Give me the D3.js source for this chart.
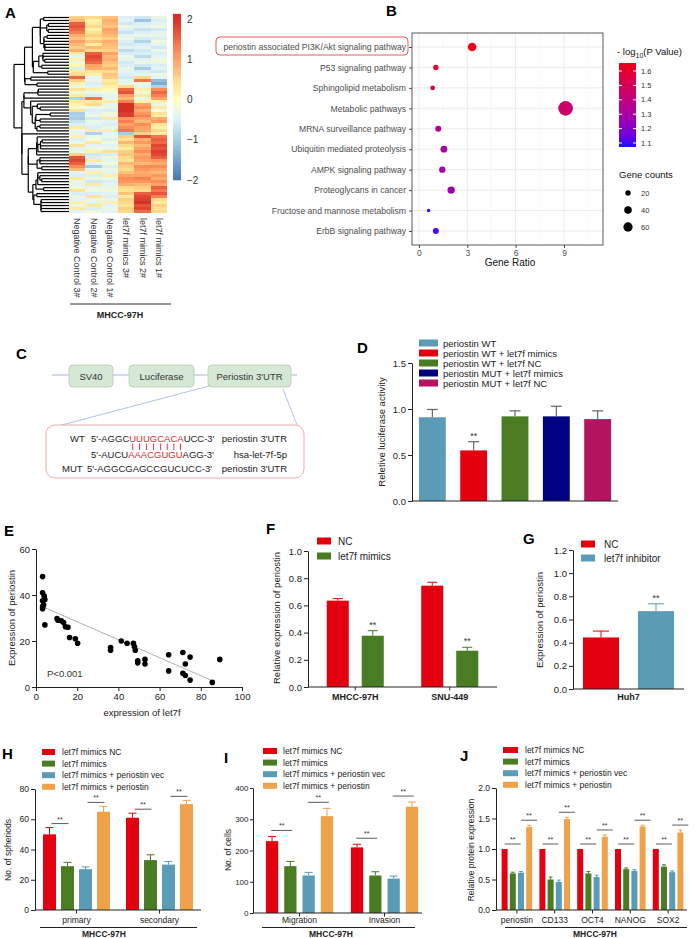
<!DOCTYPE html>
<html><head><meta charset="utf-8">
<script src="https://cdn.jsdelivr.net/npm/d3@7"></script>
<style>body{margin:0;background:#fff}svg{display:block}</style>
</head><body><svg id="c" width="696" height="938"></svg>
<script>
// ---------------- DATA ----------------
// Panel A heatmap (z-scores), rows top->bottom
const heatSamples = ["Negative Control 3#","Negative Control 2#","Negative Control 1#","let7f mimics 3#","let7f mimics 2#","let7f mimics 1#"];
const heatNC3 = [0.6,0.8,1.6,1.7,1.5,1.3,0.9,0.7,1.0,0.8,0.6,0.9,0.3,-0.4,0.2,-0.3,0.1,-0.5,0.3,0.5,1.5,0.6,0.2,-0.3,0.4,-0.2,0.3,-0.9,0.3,0.2,-0.2,0.4,-1.0,-0.9,-1.0,-0.7,-0.5,0.3,-0.3,-0.4,0.2,-0.5,-0.3,0.4,-0.4,-0.3,0.6,1.7,1.8,1.6,1.2,0.8,-0.4,-0.5,0.3,-0.3,-0.4,-0.2,0.4,-0.5,-0.3,-0.4,0.2,-0.3,0.3,-0.4];
const heatNC2 = [0.5,0.2,0.3,0.5,0.2,0.4,0.6,0.4,0.7,0.3,0.8,0.5,1.6,1.8,1.7,1.5,1.0,0.9,0.4,0.2,-0.4,-0.3,-0.5,-0.4,0.2,-0.3,-0.5,1.4,0.3,0.5,-0.3,-0.5,-0.4,-0.2,-0.6,-0.3,-0.4,-0.5,0.2,-0.9,-0.3,-0.2,0.3,-0.4,-0.3,0.2,-0.6,-0.5,0.3,-0.4,-1.0,-0.4,0.2,-0.5,-0.3,-0.6,0.3,-0.4,-0.2,-0.5,0.4,-0.3,-0.4,0.3,-0.5,-0.2];
const heatNC1 = [0.7,0.9,0.8,0.7,1.0,0.9,0.8,0.6,0.9,0.8,0.7,0.6,1.0,0.8,0.9,0.7,0.6,0.8,0.5,0.7,0.6,0.3,0.4,0.2,0.1,-0.2,-0.4,-0.3,0.2,-0.4,-0.3,-0.5,-0.2,-0.3,0.3,-0.4,-0.5,-0.3,0.2,-0.4,-0.3,-0.5,-0.2,-0.4,-0.3,0.4,-0.5,-0.3,-0.4,-0.2,-0.5,-0.3,-0.4,0.2,-0.3,-0.5,-0.4,-0.3,-0.2,-0.4,-0.5,-0.3,0.2,-0.4,-0.3,-0.4];
const heatMim3 = [-0.5,-0.4,-0.6,-0.3,-0.5,-0.7,-0.4,-0.3,-0.5,-0.6,-0.4,-0.8,-0.5,-0.3,-0.4,-0.6,-0.5,-0.3,-0.4,-0.5,-0.6,-0.4,-0.3,0.5,1.5,1.7,1.0,0.8,1.3,2.0,2.0,2.0,1.9,1.9,1.1,1.3,1.0,1.2,1.4,-1.0,0.6,0.4,0.8,0.5,0.3,0.6,0.7,0.5,0.4,0.8,0.6,0.5,0.7,1.0,1.2,1.1,0.9,0.5,0.4,0.7,0.3,0.6,0.5,0.4,0.6,0.5];
const heatMim2 = [-0.6,-1.1,-0.5,-0.4,-0.7,-0.5,-0.3,-0.6,-0.9,-0.5,-0.4,-0.6,-0.5,-0.8,-0.4,-0.3,-0.6,-1.0,-0.5,-0.4,0.5,1.4,-0.3,-0.4,0.2,-0.2,0.3,-0.3,0.2,1.0,1.2,0.9,1.1,1.3,1.0,0.8,1.2,1.0,0.9,0.6,1.7,0.9,1.1,0.8,1.0,1.2,0.9,1.1,1.0,0.8,1.2,1.1,0.9,1.0,1.3,1.1,0.8,0.6,0.5,1.6,1.8,1.9,2.0,1.7,1.8,1.5];
const heatMim1 = [-0.3,-0.5,-0.4,-0.2,-0.6,-0.4,-0.3,-0.5,-0.2,-0.4,-0.6,-0.3,-0.5,-0.4,-0.2,-0.3,-0.5,-0.4,-0.6,-0.3,-0.4,-1.2,-1.4,-0.9,1.2,1.5,1.3,1.0,0.2,-0.3,0.3,-0.2,0.4,0.2,0.9,1.1,0.4,0.2,0.5,0.3,1.4,1.6,1.5,1.8,1.7,1.9,1.8,1.6,1.1,0.9,1.2,1.0,0.8,1.1,0.9,1.2,1.0,1.6,1.4,1.7,1.3,0.5,0.3,0.6,0.4,0.5];
const heatLegendTicks = [2,1,0,-1,-2];

// Panel B
const pathways = ["periostin associated PI3K/Akt signaling pathway","P53 signaling pathway","Sphingolipid metabolism","Metabolic pathways","MRNA surveillance pathway","Ubiquitin mediated proteolysis","AMPK signaling pathway","Proteoglycans in cancer","Fructose and mannose metabolism","ErbB signaling pathway"];
const geneRatio = [3.3,1.05,0.85,9.1,1.2,1.55,1.45,2.0,0.6,1.05];
const geneCounts = [51,20,15,148,25,32,28,38,8,25];
const negLogP = [1.65,1.6,1.5,1.45,1.35,1.3,1.3,1.27,1.08,1.1];
const ratioTicks = [0,3,6,9];
const pLegendTicks = [1.1,1.2,1.3,1.4,1.5,1.6];
const countLegend = [20,40,60];

// Panel D
const dSeries = ["periostin WT","periostin WT + let7f mimics","periostin WT + let7f NC","periostin MUT + let7f mimics","periostin MUT + let7f NC"];
const dValues = [0.91,0.55,0.92,0.92,0.89];
const dErrors = [0.085,0.095,0.06,0.11,0.09];
const dSig = ["","**","","",""];
const dColors = ["#5a9bb6","#e3000f","#4a7d23","#000080","#b3135f"];

// Panel E
const let7fExpr = [3.2,3.2,4.0,3.2,4.3,3.2,3.2,3.7,4.3,10.2,10.7,12.3,13.4,14.3,15.5,16.3,19.1,20.2,36.2,36.2,41.4,44.2,47.3,47.8,48.2,49.4,49.4,52.9,52.9,64.4,64.4,71.3,71.3,72.5,72.5,74.8,74.8,85.6,89.2];
const periostinExpr = [48,41,39.5,37.5,38,35,34,35.7,27,29.8,29,28.8,28,26.2,26,21.5,21,19,17.2,16,20,19,19,17.5,16,11.4,10.5,12,10,14,7,15,6,10,5,13,3,2,12];
const fitX = [3,86];
const fitY = [35,2.6];

// Panel F
const fGroups = ["MHCC-97H","SNU-449"];
const fSeries = ["NC","let7f mimics"];
const fNC = [0.635,0.745];
const fMimics = [0.377,0.267];
const fNCErr = [0.015,0.025];
const fMimicsErr = [0.037,0.025];

// Panel G
const gGroups = ["Huh7"];
const gSeries = ["NC","let7f inhibitor"];
const gNC = [0.445];
const gInhibitor = [0.672];
const gNCErr = [0.055];
const gInhibitorErr = [0.063];

// Panels H, I, J
const rescueSeries = ["let7f mimics NC","let7f mimics","let7f mimics + periostin vec","let7f mimics + periostin"];
const rescueColors = ["#e3000f","#4a7d23","#5a9bb6","#efa24a"];
const hGroups = ["primary","secondary"];
const hNC = [50,61], hMim = [29,33], hVec = [27,30], hPeri = [65,70];
const hNCErr = [4.5,3], hMimErr = [2.5,3.5], hVecErr = [1.5,2], hPeriErr = [3.5,2.5];
const iGroups = ["Migration","Invasion"];
const iNC = [230,210], iMim = [150,120], iVec = [120,110], iPeri = [310,340];
const iNCErr = [15,10], iMimErr = [15,12], iVecErr = [10,8], iPeriErr = [25,15];
const jGroups = ["periostin","CD133","OCT4","NANOG","SOX2"];
const jNC = [1,1,1,1,1], jMim = [0.6,0.5,0.6,0.67,0.71], jVec = [0.61,0.46,0.54,0.64,0.62], jPeri = [1.36,1.49,1.2,1.37,1.27];
const jNCErr = [0,0,0,0,0], jMimErr = [0.02,0.04,0.03,0.02,0.03], jVecErr = [0.02,0.03,0.03,0.02,0.02], jPeriErr = [0.03,0.03,0.03,0.02,0.04];
const sigPairs = [[0,1],[2,3]];

// ---------------- DRAWING ----------------
const FONT = 'Arial, "Liberation Sans", Helvetica, sans-serif';
const svg = d3.select("#c").attr("font-family", FONT);
const TXT = "#222";

function txt(t, x, y, o = {}) {
  const e = svg.append("text").attr("x", x).attr("y", y).attr("font-size", o.fs || 9)
    .attr("fill", o.fill || TXT).attr("text-anchor", o.anchor || "start").text(t);
  if (o.bold) e.attr("font-weight", "bold");
  if (o.dom) e.attr("dominant-baseline", o.dom);
  return e;
}
function vtxt(t, x, y, fs) {
  svg.append("text").attr("transform", `translate(${x},${y}) rotate(-90)`).attr("text-anchor", "middle")
    .attr("dominant-baseline", "middle").attr("font-size", fs).attr("fill", TXT).text(t);
}
function styleAxis(sel, fs, col) {
  sel.attr("font-family", FONT);
  sel.select(".domain").attr("stroke", col || TXT);
  sel.selectAll(".tick line").attr("stroke", col || TXT);
  sel.selectAll(".tick text").attr("font-size", fs).attr("fill", col || TXT);
}
function letter(t, x, y) { txt(t, x, y, {fs: 15, bold: true, fill: "#000"}); }
function legend(items, colors, x, y0, dy, sw, sh, fs, tx) {
  items.forEach((it, i) => {
    svg.append("rect").attr("x", x).attr("y", y0 + i * dy - sh / 2).attr("width", sw).attr("height", sh).attr("fill", colors[i]);
    txt(it, tx, y0 + i * dy, {fs: fs, dom: "central"});
  });
}

// ===== Panel A =====
letter("A", 5, 18);
const heatCols = [heatNC3, heatNC2, heatNC1, heatMim3, heatMim2, heatMim1];
const nRows = heatNC3.length;
const hx = d3.scaleBand().domain(d3.range(6)).range([69, 167]);
const hy = d3.scaleBand().domain(d3.range(nRows)).range([16, 213]);
const heatColor = d3.scaleLinear().domain([-2, -1.2, -0.45, 0, 0.45, 1.2, 2])
  .range(["#4575B4", "#91BFDB", "#E0F3F8", "#FFFFBF", "#FEE090", "#FC8D59", "#D73027"]).clamp(true);
const gA = svg.append("g").attr("shape-rendering", "crispEdges");
heatCols.forEach((col, ci) => col.forEach((v, ri) => {
  gA.append("rect").attr("x", hx(ci)).attr("y", hy(ri)).attr("width", hx.bandwidth() + 0.4)
    .attr("height", hy.bandwidth() + 0.4).attr("fill", heatColor(v));
}));
// dendrogram by adjacent average-linkage clustering of the displayed rows
const rowsM = d3.range(nRows).map(i => heatCols.map(c => c[i]));
const dist = (a, b) => Math.sqrt(d3.sum(a, (v, k) => (v - b[k]) ** 2));
let cl = rowsM.map((v, i) => ({members: [i], height: 0}));
while (cl.length > 1) {
  let bi = 0, bd = Infinity;
  for (let i = 0; i < cl.length - 1; i++) {
    const A = cl[i].members, B = cl[i + 1].members; let s = 0;
    A.forEach(a => B.forEach(b => s += dist(rowsM[a], rowsM[b])));
    s /= A.length * B.length;
    if (s < bd) { bd = s; bi = i; }
  }
  const n = {children: [cl[bi], cl[bi + 1]], members: cl[bi].members.concat(cl[bi + 1].members),
    height: Math.max(bd, cl[bi].height, cl[bi + 1].height)};
  cl.splice(bi, 2, n);
}
const root = d3.hierarchy(cl[0]);
const dxs = d3.scalePow().exponent(0.5).domain([0, root.data.height]).range([69, 14]);
root.eachAfter(nd => {
  nd.yy = nd.children ? (nd.children[0].yy + nd.children[1].yy) / 2 : hy(nd.data.members[0]) + hy.bandwidth() / 2;
  nd.xx = dxs(nd.data.height);
});
const gD = svg.append("g").attr("stroke", "#000").attr("stroke-width", 1.2).attr("fill", "none");
root.each(nd => {
  if (!nd.children) return;
  gD.append("line").attr("x1", nd.xx).attr("x2", nd.xx).attr("y1", nd.children[0].yy).attr("y2", nd.children[1].yy);
  nd.children.forEach(c => gD.append("line").attr("x1", nd.xx).attr("x2", c.xx).attr("y1", c.yy).attr("y2", c.yy));
});
heatSamples.forEach((s, i) => {
  svg.append("text").attr("transform", `translate(${hx(i) + hx.bandwidth() / 2},218) rotate(90)`)
    .attr("dominant-baseline", "central").attr("font-size", 9).attr("fill", "#333").text(s);
});
svg.append("line").attr("x1", 70).attr("x2", 171).attr("y1", 304).attr("y2", 304).attr("stroke", "#333");
txt("MHCC-97H", 120, 318, {fs: 9, bold: true, anchor: "middle"});
// colour key
const cbY = d3.scaleLinear().domain([2, -2]).range([19, 180]);
const cbSteps = d3.range(-2, 2.1, 0.04);
cbSteps.forEach(v => svg.append("rect").attr("x", 173).attr("width", 8).attr("y", cbY(v + 0.04) - 0.3)
  .attr("height", cbY(v) - cbY(v + 0.04) + 0.6).attr("fill", heatColor(v + 0.02)));
svg.append("rect").attr("x", 173).attr("width", 8).attr("y", 16).attr("height", 3).attr("fill", heatColor(2));
heatLegendTicks.forEach(t => txt(t < 0 ? "\u2212" + Math.abs(t) : String(t), 187, cbY(t), {fs: 10, dom: "central", fill: "#333"}));

// ===== Panel B =====
letter("B", 386, 16);
const bx = d3.scaleLinear().domain([-0.43, 11.42]).range([412, 603]);
const by = d3.scalePoint().domain(pathways).range([47, 231]);
const bCol = d3.scaleLinear().domain([1.07, 1.66]).range(["#1010ff", "#f00010"]).interpolate(d3.interpolateLab);
const bR = d3.scaleSqrt().domain([0, 100]).range([0, 6]);
const gB = svg.append("g");
gB.append("rect").attr("x", 412).attr("y", 33).attr("width", 191).attr("height", 212).attr("fill", "#fff");
[1.5, 4.5, 7.5, 10.5].forEach(v => gB.append("line").attr("x1", bx(v)).attr("x2", bx(v)).attr("y1", 33).attr("y2", 245).attr("stroke", "#f2f2f2").attr("stroke-width", 0.6));
ratioTicks.forEach(v => gB.append("line").attr("x1", bx(v)).attr("x2", bx(v)).attr("y1", 33).attr("y2", 245).attr("stroke", "#ebebeb").attr("stroke-width", 1));
pathways.forEach(p => gB.append("line").attr("x1", 412).attr("x2", 603).attr("y1", by(p)).attr("y2", by(p)).attr("stroke", "#ebebeb").attr("stroke-width", 1));
pathways.forEach((p, i) => gB.append("circle").attr("cx", bx(geneRatio[i])).attr("cy", by(p)).attr("r", bR(geneCounts[i])).attr("fill", bCol(negLogP[i])));
gB.append("rect").attr("x", 412).attr("y", 33).attr("width", 191).attr("height", 212).attr("fill", "none").attr("stroke", "#333").attr("stroke-width", 0.8);
const bxa = svg.append("g").attr("transform", "translate(0,245)").call(d3.axisBottom(bx).tickValues(ratioTicks).tickSize(3).tickSizeOuter(0).tickPadding(2));
bxa.select(".domain").remove(); styleAxis(bxa, 8.5, "#4d4d4d");
const bya = svg.append("g").attr("transform", "translate(412,0)").call(d3.axisLeft(by).tickSize(3).tickPadding(3));
bya.select(".domain").remove(); styleAxis(bya, 8.6, "#4d4d4d");
svg.append("rect").attr("x", 216).attr("y", 37).attr("width", 192).attr("height", 18).attr("rx", 4).attr("fill", "none").attr("stroke", "#e24a4a").attr("stroke-width", 0.9);
txt("Gene Ratio", 510, 266, {fs: 10, anchor: "middle", fill: "#111"});
// colour legend
const lt = svg.append("text").attr("x", 617).attr("y", 55).attr("font-size", 9.5).attr("fill", "#111");
lt.append("tspan").text("- log");
lt.append("tspan").attr("dy", 2.5).attr("font-size", 7).text("10");
lt.append("tspan").attr("dy", -2.5).text("(P Value)");
const pY = d3.scaleLinear().domain([1.1, 1.6]).range([143, 71]);
const defs = svg.append("defs");
const grad = defs.append("linearGradient").attr("id", "pg").attr("x1", 0).attr("y1", 1).attr("x2", 0).attr("y2", 0);
d3.range(0, 1.001, 0.1).forEach(t => grad.append("stop").attr("offset", t).attr("stop-color", bCol(1.072 + t * (1.655 - 1.072))));
svg.append("rect").attr("x", 619).attr("y", 63).attr("width", 17).attr("height", 84).attr("fill", "url(#pg)");
pLegendTicks.forEach(v => {
  svg.append("line").attr("x1", 619).attr("x2", 622).attr("y1", pY(v)).attr("y2", pY(v)).attr("stroke", "#fff");
  svg.append("line").attr("x1", 633).attr("x2", 636).attr("y1", pY(v)).attr("y2", pY(v)).attr("stroke", "#fff");
  txt(d3.format(".1f")(v), 641, pY(v), {fs: 7.5, dom: "central", fill: "#333"});
});
txt("Gene counts", 619, 178, {fs: 9.5, fill: "#111"});
countLegend.forEach((c, i) => {
  svg.append("circle").attr("cx", 628).attr("cy", 193 + i * 17).attr("r", bR(c)).attr("fill", "#000");
  txt(String(c), 641, 193 + i * 17, {fs: 7.5, dom: "central", fill: "#333"});
});

// ===== Panel C =====
letter("C", 16, 359);
const lineC = "#9fb3e6";
svg.append("line").attr("x1", 52).attr("x2", 297).attr("y1", 375).attr("y2", 375).attr("stroke", lineC);
[["SV40", 69, 113], ["Luciferase", 129, 194], ["Periostin 3'UTR", 208, 291]].forEach(b => {
  svg.append("rect").attr("x", b[1]).attr("y", 365).attr("width", b[2] - b[1]).attr("height", 22).attr("rx", 4)
    .attr("fill", "#d5e8d4").attr("stroke", "#b6cbb3").attr("stroke-width", 0.8);
  txt(b[0], (b[1] + b[2]) / 2, 376, {fs: 9.5, anchor: "middle", dom: "central", fill: "#333"});
});
svg.append("line").attr("x1", 209).attr("y1", 386).attr("x2", 58).attr("y2", 426).attr("stroke", lineC).attr("stroke-width", 0.8);
svg.append("line").attr("x1", 283).attr("y1", 389).attr("x2", 297).attr("y2", 425).attr("stroke", lineC).attr("stroke-width", 0.8);
svg.append("rect").attr("x", 46).attr("y", 425).attr("width", 258).attr("height", 53).attr("rx", 9).attr("fill", "#fff").attr("stroke", "#f2a3a3").attr("stroke-width", 0.9);
const RED = "#e8262b";
function seqLine(y, parts) {
  const t = svg.append("text").attr("x", 91).attr("y", y).attr("font-size", 9.5).attr("fill", TXT);
  parts.forEach(p => t.append("tspan").attr("fill", p[1] ? RED : TXT).text(p[0]));
  return t;
}
txt("WT", 70, 441.5, {fs: 9.5});
const s1 = seqLine(441.5, [["5'-AGGC", 0], ["UUUGCACA", 1], ["UCC-3'", 0]]);
seqLine(457.5, [["5'-AUCU", 0], ["AAACGUGU", 1], ["AGG-3'", 0]]);
txt("periostin 3'UTR", 287, 441.5, {fs: 9.5, anchor: "end"});
txt("hsa-let-7f-5p", 287, 457.5, {fs: 9.5, anchor: "end"});
txt("MUT", 62, 471.5, {fs: 9.5});
txt("5'-AGGCGAGCCGUCUCC-3'", 87, 471.5, {fs: 9.5});
txt("periostin 3'UTR", 287, 471.5, {fs: 9.5, anchor: "end"});
const s1n = s1.node();
for (let k = 7; k < 15; k++) {
  let cx;
  try { const e = s1n.getExtentOfChar(k); cx = e.x + e.width / 2; } catch (err) { cx = 128 + (k - 7) * 6.8 + 3; }
  svg.append("line").attr("x1", cx).attr("x2", cx).attr("y1", 443.5).attr("y2", 450).attr("stroke", RED).attr("stroke-width", 0.9);
}

// ===== Bar panel helper =====
function barPanel(p) {
  const y = d3.scaleLinear().domain(p.yDomain).range([p.yBottom, p.yTop]);
  const gx = d3.scaleBand().domain(p.groups).range(p.groupRange);
  const sx = d3.scaleBand().domain(p.series).range([-p.half, p.half]).paddingInner(p.pad).paddingOuter(p.pad / 2);
  const cx = (gi, si) => gx(p.groups[gi]) + gx.bandwidth() / 2 + sx(p.series[si]) + sx.bandwidth() / 2;
  const g = svg.append("g");
  const w = sx.bandwidth();
  p.series.forEach((s, si) => p.groups.forEach((gr, gi) => {
    const v = p.values[si][gi], e = p.errors[si][gi], c = p.colors[si], x = cx(gi, si);
    g.append("rect").attr("x", x - w / 2).attr("y", y(v)).attr("width", w).attr("height", y(0) - y(v)).attr("fill", c);
    if (e > 0) {
      const ec = p.errColor || c;
      g.append("line").attr("x1", x).attr("x2", x).attr("y1", y(v)).attr("y2", y(v + e)).attr("stroke", ec).attr("stroke-width", p.ew || 1);
      g.append("line").attr("x1", x - p.cap).attr("x2", x + p.cap).attr("y1", y(v + e)).attr("y2", y(v + e)).attr("stroke", ec).attr("stroke-width", p.ew || 1);
    }
    if (p.sig && p.sig[si]) txt(p.sig[si], x, y(v + e) - 3, {fs: p.sigFs || 9, anchor: "middle", fill: "#333"});
  }));
  if (p.pairs) {
    p.groups.forEach((gr, gi) => p.pairs.forEach(pr => {
      const top = d3.max(pr, si => p.values[si][gi] + p.errors[si][gi]);
      const ly = y(top) - p.bOff;
      const mid = (cx(gi, pr[0]) + cx(gi, pr[1])) / 2 + p.bShift;
      g.append("line").attr("x1", mid - p.bw / 2).attr("x2", mid + p.bw / 2).attr("y1", ly).attr("y2", ly).attr("stroke", "#333").attr("stroke-width", 0.8);
      txt("**", mid, ly - 2, {fs: 7, anchor: "middle", fill: "#333"});
    }));
  }
  const ya = svg.append("g").attr("transform", `translate(${p.x0},0)`)
    .call(d3.axisLeft(y).tickValues(p.ticks).tickFormat(d3.format(p.fmt)).tickSize(p.tick || 4).tickSizeOuter(0).tickPadding(p.tpad || 2));
  styleAxis(ya, p.fs);
  svg.append("line").attr("x1", p.x0).attr("x2", p.x1).attr("y1", y(0)).attr("y2", y(0)).attr("stroke", TXT);
  if (p.xTicks) p.groups.forEach(gr => {
    const gcx = gx(gr) + gx.bandwidth() / 2;
    svg.append("line").attr("x1", gcx).attr("x2", gcx).attr("y1", y(0)).attr("y2", y(0) + 3.5).attr("stroke", TXT);
  });
  return {y, gx};
}

// ===== Panel D =====
letter("D", 357, 353);
barPanel({yDomain: [0, 1.5], yTop: 363, yBottom: 501, x0: 412, x1: 618, groups: [""], series: dSeries,
  values: dValues.map(v => [v]), errors: dErrors.map(v => [v]), colors: dColors, groupRange: [412, 618],
  half: 103.3, pad: 0.35, cap: 5.5, errColor: "#666", ew: 1.2, ticks: [0, 0.5, 1, 1.5], fmt: ".1f", fs: 9.5, sig: dSig, sigFs: 9});
legend(dSeries, dColors, 419, 343, 10, 19, 7, 9.5, 443);
vtxt("Reletive luciferase activity", 382, 432, 9.5);

// ===== Panel E =====
letter("E", 4, 536);
const ex = d3.scaleLinear().domain([0, 100]).range([36, 242]);
const ey = d3.scaleLinear().domain([0, 60]).range([687, 549]);
const exa = svg.append("g").attr("transform", "translate(0,687)").call(d3.axisBottom(ex).tickValues([0, 20, 40, 60, 80, 100]).tickSize(4).tickSizeOuter(0).tickPadding(2));
styleAxis(exa, 9.5);
const eya = svg.append("g").attr("transform", "translate(36,0)").call(d3.axisLeft(ey).tickValues([0, 20, 40, 60]).tickSize(4).tickSizeOuter(0).tickPadding(2));
styleAxis(eya, 9.5);
svg.append("line").attr("x1", ex(fitX[0])).attr("y1", ey(fitY[0])).attr("x2", ex(fitX[1])).attr("y2", ey(fitY[1])).attr("stroke", "#9a9a9a").attr("stroke-width", 0.8);
let7fExpr.forEach((v, i) => svg.append("circle").attr("cx", ex(v)).attr("cy", ey(periostinExpr[i])).attr("r", 2.8).attr("fill", "#000"));
txt("P<0.001", 47, 677, {fs: 9.5, fill: "#333"});
txt("expression of let7f", 142, 716, {fs: 9.5, anchor: "middle"});
vtxt("Expression of periostin", 12, 618, 9.5);

// ===== Panel F =====
letter("F", 266, 534);
const fRes = barPanel({yDomain: [0, 1], yTop: 551, yBottom: 687, x0: 308, x1: 497, groups: fGroups, series: fSeries,
  values: [fNC, fMimics], errors: [fNCErr, fMimicsErr], colors: ["#e3000f", "#4a7d23"], groupRange: [308, 497],
  half: 35, pad: 0.37, cap: 5, ticks: [0, 0.2, 0.4, 0.6, 0.8, 1.0], fmt: ".1f", fs: 9.5, xTicks: true,
  sig: ["", "**"], sigFs: 9});
legend(fSeries, ["#e3000f", "#4a7d23"], 317, 541, 15, 14, 7, 10, 338);
fGroups.forEach(gr => txt(gr, fRes.gx(gr) + fRes.gx.bandwidth() / 2, 700, {fs: 9, bold: true, anchor: "middle"}));
vtxt("Relative expression of periostin", 277, 618, 9.5);

// ===== Panel G =====
letter("G", 523, 544);
barPanel({yDomain: [0, 1.2], yTop: 550, yBottom: 689, x0: 573, x1: 684, groups: gGroups, series: gSeries,
  values: [gNC, gInhibitor], errors: [gNCErr, gInhibitorErr], colors: ["#e3000f", "#5a9bb6"], groupRange: [573, 684],
  half: 55, pad: 0.345, cap: 8, ticks: [0, 0.2, 0.4, 0.6, 0.8, 1.0, 1.2], fmt: ".1f", fs: 9.5, xTicks: false,
  sig: ["", "**"], sigFs: 9});
legend(gSeries, ["#e3000f", "#5a9bb6"], 581, 544, 14, 14, 7, 10, 604);
txt("Huh7", 628.5, 700, {fs: 9, bold: true, anchor: "middle"});
vtxt("Expression of periostin", 540, 620, 9.5);

// ===== Panel H =====
letter("H", 2, 759);
const hRes = barPanel({yDomain: [0, 80], yTop: 789, yBottom: 910, x0: 35, x1: 201, groups: hGroups, series: rescueSeries,
  values: [hNC, hMim, hVec, hPeri], errors: [hNCErr, hMimErr, hVecErr, hPeriErr], colors: rescueColors, groupRange: [35, 201],
  half: 36, pad: 0.28, cap: 4, ticks: [0, 20, 40, 60, 80], fmt: "d", fs: 8.5, xTicks: true,
  pairs: sigPairs, bOff: 4, bw: 17, bShift: 1.5});
legend(rescueSeries, rescueColors, 42, 752, 11.6, 13, 6, 8.5, 62);
hGroups.forEach(gr => txt(gr, hRes.gx(gr) + hRes.gx.bandwidth() / 2, 923, {fs: 8.5, anchor: "middle"}));
svg.append("line").attr("x1", 40).attr("x2", 197).attr("y1", 927.5).attr("y2", 927.5).attr("stroke", TXT);
txt("MHCC-97H", 104, 937, {fs: 8.5, bold: true, anchor: "middle"});
vtxt("No. of spheriods", 9, 850, 8.5);

// ===== Panel I =====
letter("I", 224, 763);
const iRes = barPanel({yDomain: [0, 400], yTop: 788, yBottom: 913, x0: 253, x1: 422, groups: iGroups, series: rescueSeries,
  values: [iNC, iMim, iVec, iPeri], errors: [iNCErr, iMimErr, iVecErr, iPeriErr], colors: rescueColors, groupRange: [257, 427],
  half: 36.6, pad: 0.33, cap: 4, ticks: [0, 100, 200, 300, 400], fmt: "d", fs: 8, tick: 3, tpad: 1.5, xTicks: true,
  pairs: sigPairs, bOff: 6, bw: 21, bShift: 0.5});
legend(rescueSeries, rescueColors, 263, 751, 11.6, 14, 6, 8.5, 283);
iGroups.forEach(gr => txt(gr, iRes.gx(gr) + iRes.gx.bandwidth() / 2, 923, {fs: 8.5, anchor: "middle"}));
svg.append("line").attr("x1", 262).attr("x2", 415).attr("y1", 927.5).attr("y2", 927.5).attr("stroke", TXT);
txt("MHCC-97H", 331, 937, {fs: 8.5, bold: true, anchor: "middle"});
vtxt("No. of cells", 229, 850, 8.5);

// ===== Panel J =====
letter("J", 460, 761);
const jRes = barPanel({yDomain: [0, 2], yTop: 788, yBottom: 910, x0: 496, x1: 687, groups: jGroups, series: rescueSeries,
  values: [jNC, jMim, jVec, jPeri], errors: [jNCErr, jMimErr, jVecErr, jPeriErr], colors: rescueColors, groupRange: [498, 687],
  half: 16.4, pad: 0.27, cap: 2, ticks: [0, 0.5, 1, 1.5, 2], fmt: ".1f", fs: 8.5, xTicks: true,
  pairs: sigPairs, bOff: 5, bw: 16, bShift: 4});
legend(rescueSeries, rescueColors, 503, 750, 11.6, 15, 6, 8.5, 525);
jGroups.forEach(gr => txt(gr, jRes.gx(gr) + jRes.gx.bandwidth() / 2, 923, {fs: 8.5, anchor: "middle"}));
svg.append("line").attr("x1", 505).attr("x2", 687).attr("y1", 927.5).attr("y2", 927.5).attr("stroke", TXT);
txt("MHCC-97H", 595, 937, {fs: 8.5, bold: true, anchor: "middle"});
vtxt("Relative protein expression", 472, 850, 8.5);
</script>
</body></html>
